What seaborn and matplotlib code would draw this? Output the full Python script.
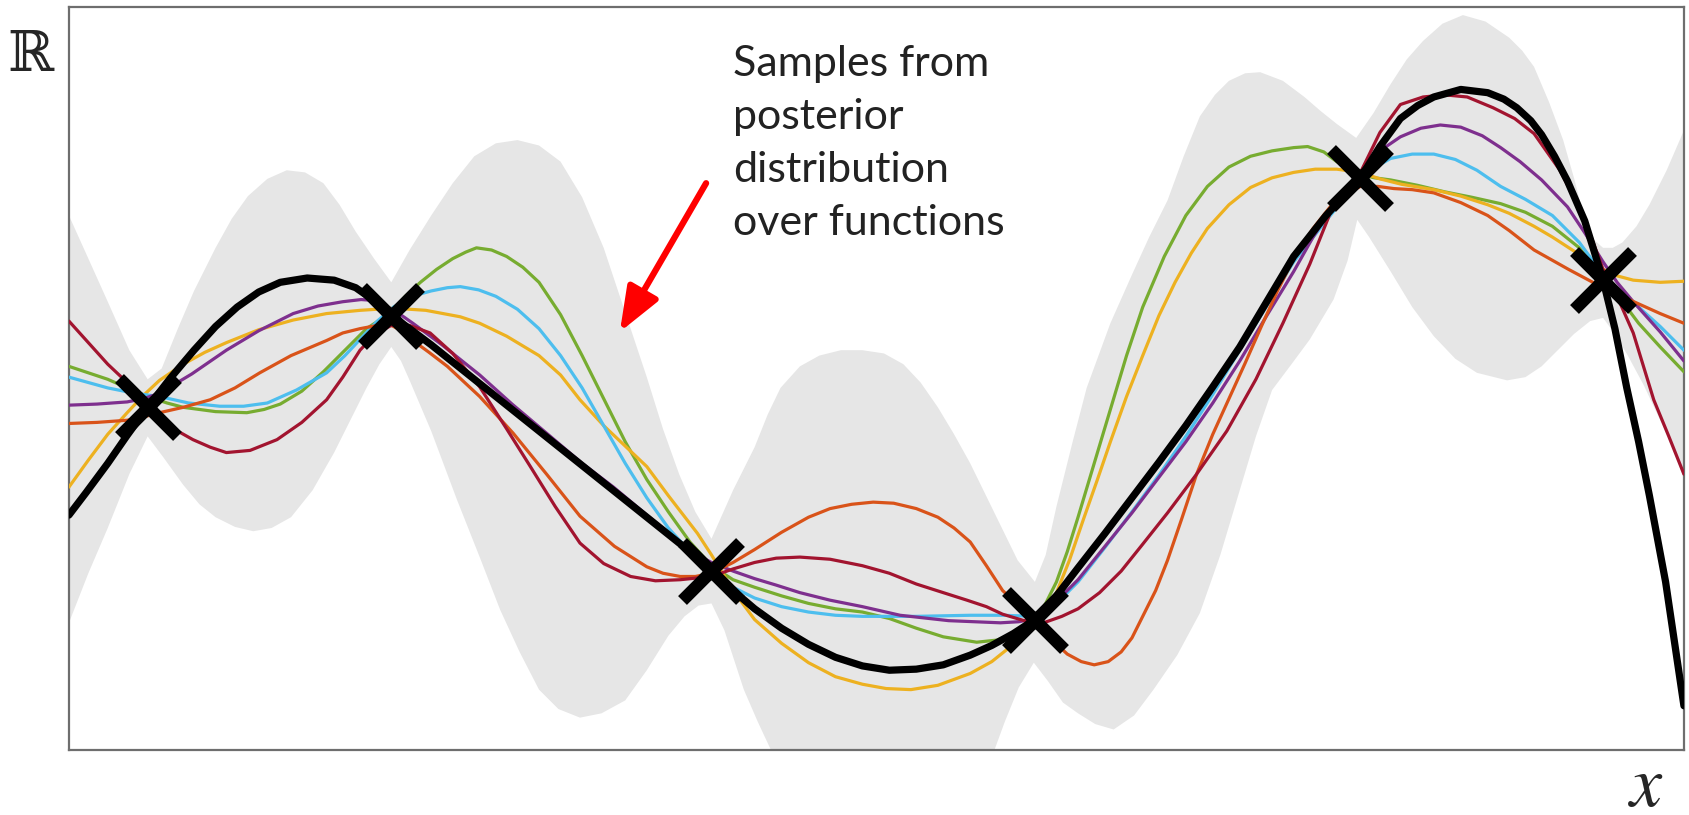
import matplotlib
matplotlib.use("Agg")
import matplotlib.pyplot as plt
import pandas as pd
import seaborn as sns

# observations (training points)
obs_x = [137, 363, 660, 960, 1262, 1487]
obs_y = [318, 403, 166, 121, 531, 436]

# posterior mean
mean_x = [64, 80, 100, 118, 137, 158, 180, 200, 220, 240, 260, 285, 310, 330, 350, 363, 380, 400, 425, 450,
          475, 500, 525, 550, 575, 600, 620, 640, 660, 680, 700, 725, 750, 775, 800, 825, 850, 875, 900,
          920, 940, 960, 980, 1000, 1025, 1050, 1075, 1100, 1125, 1150, 1175, 1200, 1230, 1262, 1280,
          1299, 1315, 1330, 1355, 1380, 1395, 1407, 1420, 1430, 1442, 1454, 1470, 1487, 1498, 1509,
          1520, 1530, 1545, 1562]
mean_y = [218, 239, 266, 292, 318, 345, 371, 393, 411, 425, 434, 438, 436, 429, 415, 403, 391, 376, 356, 336,
          316, 296, 276, 256, 236, 216, 200, 184, 166, 148, 131, 113, 98, 86, 78, 74, 75, 79, 88,
          97, 108, 121, 143, 169, 201, 234, 267, 301, 337, 374, 416, 458, 496, 531, 560,
          586, 598, 606, 613, 610, 604, 596, 584, 571, 551, 528, 491, 436, 391, 336,
          286, 236, 156, 41]

# confidence band
upper_x = [64, 82, 100, 120, 137, 150, 165, 180, 200, 215, 230, 248, 266, 283, 300, 315, 330, 347, 363, 380,
           400, 420, 440, 460, 480, 500, 520, 540, 560, 580, 600, 615, 630, 645, 660, 680, 700, 712, 724,
           742, 760, 780, 800, 820, 838, 854, 870, 885, 900, 922, 944, 960, 970, 980, 995, 1008, 1030,
           1050, 1066, 1083, 1098, 1113, 1127, 1140, 1155, 1169, 1190, 1210, 1225, 1240, 1258, 1274,
           1290, 1305, 1320, 1338, 1357, 1378, 1400, 1412, 1423, 1437, 1450, 1460, 1469, 1478, 1487,
           1496, 1505, 1518, 1530, 1546, 1562]
upper_y = [496, 456, 416, 371, 344, 354, 391, 426, 466, 493, 514, 530, 538, 536, 526, 506, 481, 456, 434, 464,
           496, 526, 551, 563, 566, 561, 546, 513, 466, 406, 346, 298, 256, 221, 196, 241, 281, 311, 336,
           356, 366, 371, 371, 368, 358, 341, 318, 293, 266, 221, 176, 156, 181, 226, 286, 336, 396,
           441, 476, 510, 551, 588, 608, 621, 628, 629, 621, 606, 593, 581, 568, 591,
           618, 641, 658, 674, 682, 676, 661, 649, 634, 601, 566, 531, 496, 474, 466,
           466, 471, 486, 506, 538, 575]
lower_x = [64, 82, 100, 120, 137, 152, 170, 185, 200, 218, 235, 252, 270, 290, 310, 325, 340, 352, 363, 372,
           380, 400, 424, 445, 464, 482, 500, 518, 538, 558, 580, 600, 620, 635, 648, 660, 672, 690, 703,
           717, 760, 820, 880, 921, 932, 945, 959, 972, 986, 1000, 1016, 1033, 1052, 1070, 1092, 1113,
           1132, 1150, 1165, 1180, 1198, 1215, 1237, 1250, 1259, 1270, 1290, 1310, 1330, 1350, 1370,
           1398, 1415, 1430, 1445, 1460, 1475, 1487, 1498, 1510, 1525, 1540, 1552, 1562]
lower_y = [118, 164, 206, 256, 291, 271, 246, 228, 216, 207, 203, 206, 216, 241, 276, 306, 336, 358, 374, 361,
           343, 296, 232, 179, 130, 91, 56, 38, 30, 34, 46, 74, 106, 124, 134, 136, 111, 56, 26,
           -4, -104, -154, -104, -4, 26, 58, 81, 64, 44, 34, 24, 19, 32, 56, 88, 127,
           181, 241, 291, 334, 358, 381, 418, 454, 492, 476, 444, 411, 384, 363, 350,
           343, 346, 356, 371, 386, 398, 401, 386, 366, 338, 306, 281, 251]

# posterior samples
green_x = [64, 82, 100, 118, 137, 155, 170, 200, 229, 245, 260, 280, 300, 320, 340, 363, 376, 390, 405, 420,
           432, 442, 456, 470, 485, 500, 520, 540, 560, 580, 600, 620, 640, 660, 680, 700, 725, 750, 775,
           800, 825, 850, 875, 906, 925, 940, 960, 970, 980, 990, 1000, 1015, 1030, 1045, 1060, 1080,
           1100, 1120, 1140, 1160, 1180, 1200, 1213, 1228, 1240, 1252, 1262, 1275, 1290, 1315, 1340,
           1365, 1392, 1415, 1440, 1465, 1487, 1505, 1520, 1540, 1562]
green_y = [356, 350, 344, 336, 328, 322, 318, 314, 313, 316, 321, 333, 351, 371, 391, 406, 421, 434, 446, 456,
           462, 466, 464, 458, 448, 434, 404, 366, 326, 286, 251, 221, 193, 171, 158, 151, 143, 136, 131,
           128, 122, 113, 105, 100, 102, 108, 121, 136, 156, 184, 216, 266, 316, 366, 411, 458,
           496, 523, 541, 551, 556, 559, 560, 555, 546, 539, 534, 531, 529, 524, 518,
           513, 507, 499, 486, 466, 438, 416, 396, 374, 351]
blue_x = [64, 82, 100, 125, 148, 175, 204, 226, 248, 275, 303, 320, 334, 350, 365, 382, 400, 415, 427, 444,
          460, 480, 500, 520, 540, 560, 580, 600, 620, 640, 660, 680, 700, 725, 750, 775, 800, 850, 900,
          930, 960, 980, 1000, 1025, 1050, 1075, 1100, 1125, 1150, 1175, 1200, 1215, 1230, 1246, 1262,
          1276, 1290, 1310, 1330, 1350, 1370, 1392, 1415, 1440, 1465, 1487, 1505, 1520, 1540, 1562]
blue_y = [346, 341, 336, 331, 328, 322, 319, 319, 322, 334, 350, 366, 381, 398, 411, 421, 426, 429, 430, 427,
          421, 409, 391, 366, 336, 301, 266, 234, 206, 184, 166, 151, 141, 133, 128, 125, 124, 124, 125,
          125, 124, 136, 156, 188, 221, 255, 291, 330, 371, 412, 453, 472, 491, 511, 528,
          541, 549, 553, 553, 548, 538, 523, 511, 496, 471, 441, 424, 411, 393, 371]
yellow_x = [64, 82, 100, 118, 133, 148, 170, 190, 210, 240, 272, 303, 334, 365, 395, 427, 445, 470, 500, 520,
            538, 560, 580, 600, 620, 647, 660, 680, 700, 725, 750, 775, 800, 822, 845, 870, 900, 920, 940,
            960, 970, 980, 992, 1005, 1018, 1030, 1045, 1060, 1075, 1090, 1105, 1120, 1140, 1160, 1180,
            1200, 1220, 1240, 1262, 1280, 1300, 1330, 1355, 1380, 1400, 1423, 1440, 1460, 1487, 1500,
            1515, 1540, 1562]
yellow_y = [244, 269, 293, 313, 329, 343, 358, 369, 378, 390, 399, 405, 408, 410, 408, 402, 396, 384, 366, 348,
            325, 301, 282, 263, 236, 201, 181, 148, 121, 99, 81, 68, 61, 57, 56, 60, 71, 82, 98,
            116, 128, 146, 176, 214, 251, 286, 328, 366, 403, 434, 461, 484, 506, 522, 531,
            536, 539, 539, 536, 530, 525, 520, 514, 506, 498, 486, 476, 463, 446, 440,
            436, 434, 435]
purple_x = [64, 90, 118, 133, 148, 178, 210, 240, 272, 295, 318, 335, 350, 363, 373, 383, 410, 445, 475, 507,
            540, 569, 600, 631, 645, 660, 680, 700, 720, 742, 770, 800, 835, 880, 928, 945, 960, 975, 990,
            1000, 1025, 1050, 1075, 1100, 1125, 1150, 1175, 1200, 1218, 1237, 1250, 1262, 1280, 1299,
            1318, 1336, 1355, 1375, 1392, 1410, 1430, 1454, 1470, 1487, 1500, 1515, 1540, 1562]
purple_y = [320, 321, 323, 326, 331, 349, 371, 389, 405, 412, 416, 418, 417, 409, 403, 396, 376, 348, 321, 294,
            266, 244, 218, 192, 182, 174, 166, 159, 153, 146, 139, 133, 125, 120, 118, 119, 122, 134, 148,
            158, 189, 220, 253, 286, 322, 361, 403, 444, 476, 506, 522, 536, 556, 569,
            577, 580, 578, 570, 559, 546, 529, 504, 480, 453, 434, 416, 388, 361]
orange_x = [64, 90, 118, 133, 148, 170, 195, 218, 241, 270, 303, 318, 334, 350, 363, 373, 383, 398, 415, 445,
            476, 507, 538, 570, 600, 615, 631, 645, 660, 680, 700, 725, 750, 770, 790, 810, 829, 850, 870,
            885, 900, 915, 930, 945, 960, 975, 990, 1003, 1015, 1028, 1040, 1050, 1060, 1072, 1083, 1096,
            1110, 1125, 1140, 1155, 1170, 1185, 1200, 1218, 1237, 1250, 1262, 1278, 1293, 1310, 1330,
            1355, 1380, 1400, 1423, 1455, 1485, 1500, 1520, 1540, 1562]
orange_y = [303, 304, 306, 309, 313, 318, 325, 336, 350, 366, 380, 387, 391, 394, 394, 389, 380, 369, 356, 328,
            294, 256, 217, 189, 170, 164, 161, 161, 164, 174, 186, 202, 216, 224, 228, 230, 229, 224, 216,
            206, 193, 171, 148, 134, 121, 103, 89, 82, 79, 82, 91, 104, 124, 148, 176, 214,
            256, 293, 326, 359, 393, 426, 456, 484, 508, 517, 523, 523, 521, 520, 517,
            508, 496, 482, 464, 446, 430, 423, 414, 405, 396]
crimson_x = [64, 82, 100, 118, 133, 148, 163, 179, 195, 210, 232, 257, 280, 303, 318, 334, 348, 363, 380, 399,
             420, 445, 470, 492, 515, 538, 560, 585, 608, 631, 660, 680, 700, 720, 742, 770, 800, 825, 850,
             875, 897, 915, 930, 950, 968, 985, 1000, 1020, 1040, 1060, 1083, 1110, 1138, 1165, 1190,
             1215, 1237, 1250, 1262, 1280, 1299, 1320, 1340, 1361, 1385, 1405, 1423, 1447, 1469, 1487,
             1500, 1515, 1534, 1548, 1562]
crimson_y = [398, 378, 358, 341, 324, 309, 297, 288, 281, 276, 278, 288, 304, 325, 346, 371, 386, 394, 394, 387,
             368, 337, 298, 263, 226, 192, 173, 161, 157, 158, 161, 168, 174, 178, 179, 177, 171, 164, 154,
             146, 139, 133, 126, 120, 118, 124, 131, 146, 166, 191, 220, 256, 296, 344, 396,
             451, 506, 521, 536, 573, 599, 606, 608, 606, 596, 586, 572, 538, 495, 446,
             421, 387, 325, 291, 256]

sample_colors = {
    "green": "#77AC30",
    "yellow": "#EDB120",
    "blue": "#4DBEEE",
    "purple": "#7E2F8E",
    "orange": "#D95319",
    "crimson": "#A2142F",
}
samples = {
    "green": (green_x, green_y),
    "yellow": (yellow_x, yellow_y),
    "blue": (blue_x, blue_y),
    "purple": (purple_x, purple_y),
    "orange": (orange_x, orange_y),
    "crimson": (crimson_x, crimson_y),
}

sns.set_style("white")
plt.rcParams['font.family'] = ['Lato', 'DejaVu Sans']
plt.rcParams['mathtext.fontset'] = 'stix'

fig = plt.figure(figsize=(16.9, 8.15), dpi=100)
ax = fig.add_axes([0.0408, 0.0798, 0.9556, 0.9116])

# band edges were read at different x positions: put them on one grid
band = pd.merge(pd.DataFrame({"x": upper_x, "upper": upper_y}),
                pd.DataFrame({"x": lower_x, "lower": lower_y}), on="x", how="outer")
band = band.sort_values("x").set_index("x").interpolate("index").reset_index()
ax.fill_between(band["x"], band["lower"], band["upper"], color="#e6e6e6", lw=0, zorder=1)

rows = []
for name, (xs, ys) in samples.items():
    rows.append(pd.DataFrame({"x": xs, "y": ys, "sample": name}))
df = pd.concat(rows, ignore_index=True)
sns.lineplot(data=df, x="x", y="y", hue="sample", units="sample", estimator=None,
             palette=sample_colors, linewidth=2.3, legend=False, ax=ax, zorder=3)

sns.lineplot(x=mean_x, y=mean_y, color="black", linewidth=5.2, estimator=None, ax=ax, zorder=4)
ax.plot(obs_x, obs_y, ls="none", marker="x", color="black", markersize=42, markeredgewidth=9, zorder=5)

ax.set_xlim(64, 1562)
ax.set_ylim(0, 689.5)
ax.set_xticks([])
ax.set_yticks([])
ax.set_xlabel("")
ax.set_ylabel("")
for sp in ax.spines.values():
    sp.set_color("#6e6e6e")
    sp.set_linewidth(1.6)

ax.text(680, 654, "Samples from\nposterior\ndistribution\nover functions", ha="left", va="top",
        fontsize=31, fontweight="normal", color="#222222", linespacing=1.48, zorder=6)
ax.annotate("", xy=(575, 388), xytext=(655, 526),
            arrowprops=dict(arrowstyle="-|>,head_length=0.9,head_width=0.35", color="red", lw=4.5,
                            mutation_scale=30, shrinkA=0, shrinkB=0), zorder=6)

fig.text(30 / 1690, 1 - 56 / 815, "\u211d", ha="center", va="center", fontsize=40,
         family=["DejaVu Serif"])
fig.text(1646 / 1690, 1 - 806 / 815, r"$x$", ha="center", va="baseline", fontsize=52)

fig.savefig("out.png", dpi=100)
